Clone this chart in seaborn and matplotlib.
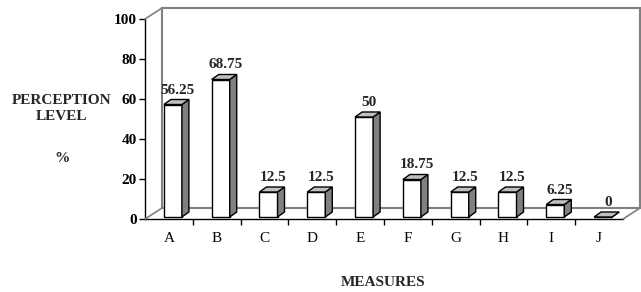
import matplotlib
matplotlib.use('Agg')
import matplotlib.pyplot as plt
from matplotlib.patches import Polygon, Rectangle
from matplotlib.transforms import offset_copy
import seaborn as sns

# --- data ---
measures = list('ABCDEFGHIJ')
perception = [56.25, 68.75, 12.5, 12.5, 50, 18.75, 12.5, 12.5, 6.25, 0]
y_ticks = [0, 20, 40, 60, 80, 100]

# --- style ---
sns.set_style('white')
plt.rcParams['font.family'] = ['Liberation Serif', 'DejaVu Serif']

FRONT = 'white'
SIDE = '#808080'
TOP = '#c0c0c0'
WALL = '#808080'
BAR_W = 0.377
FS = 11

fig = plt.figure(figsize=(6.41, 2.92), dpi=100)
fig.patch.set_facecolor('white')
ax = fig.add_axes([145 / 641, 73 / 292, 478 / 641, 200 / 292])

sns.barplot(x=measures, y=perception, color=FRONT, saturation=1,
            edgecolor='black', linewidth=1, width=BAR_W, ax=ax, zorder=3)
ax.set_xlim(-0.5, len(measures) - 0.5)
ax.set_ylim(0, 100)

# depth of each bar in data units (7 px right, 5 px up)
p0 = ax.transData.transform((0, 0))
p1 = ax.transData.transform((1, 1))
dx = 7 / (p1[0] - p0[0])
dy = 5 / (p1[1] - p0[1])

# bars stand a little behind the front axis
bar_tr = offset_copy(ax.transData, fig=fig, x=4, y=2, units='dots')
for p in list(ax.patches):
    p.set_transform(bar_tr)
    p.set_clip_on(False)
    x0, w, h = p.get_x(), p.get_width(), p.get_height()
    x1 = x0 + w
    side = Polygon([(x1, 0), (x1 + dx, dy), (x1 + dx, h + dy), (x1, h)],
                   closed=True, facecolor=SIDE, edgecolor='black', lw=1,
                   transform=bar_tr, clip_on=False, zorder=3)
    top = Polygon([(x0, h), (x1, h), (x1 + dx, h + dy), (x0 + dx, h + dy)],
                  closed=True, facecolor=TOP, edgecolor='black', lw=1,
                  transform=bar_tr, clip_on=False, zorder=3)
    ax.add_patch(side)
    ax.add_patch(top)

# back wall + floor
wall_tr = offset_copy(ax.transAxes, fig=fig, x=17, y=11, units='dots')
ax.add_patch(Rectangle((0, 0), 1, 1, transform=wall_tr, fill=False,
                       edgecolor=WALL, lw=1.5, clip_on=False, zorder=1))
for corner in [(0, 0), (1, 0), (0, 1)]:
    ax.annotate('', xy=corner, xycoords='axes fraction',
                xytext=(17, 11), textcoords='offset pixels',
                arrowprops=dict(arrowstyle='-', color=WALL, lw=1.2,
                                shrinkA=0, shrinkB=0))

# value labels
lab_tr = offset_copy(ax.transData, fig=fig, x=9, y=13, units='dots')
for i, v in enumerate(perception):
    ax.text(i, v, f'{v:g}', transform=lab_tr, ha='center', va='baseline',
            fontsize=FS, fontweight='bold', zorder=5)

# axes
for s in ['top', 'right']:
    ax.spines[s].set_visible(False)
for s in ['left', 'bottom']:
    ax.spines[s].set_color('black')
    ax.spines[s].set_linewidth(1)
ax.set_yticks(y_ticks)
ax.tick_params(axis='y', left=True, direction='out', length=4, width=1,
               pad=2, labelsize=FS, colors='black')
for lbl in ax.get_yticklabels():
    lbl.set_fontweight('bold')
ax.tick_params(axis='x', which='major', length=0, pad=9, labelsize=FS,
               colors='black')
ax.set_xticks([i + 0.5 for i in range(len(measures) - 1)], minor=True)
ax.tick_params(axis='x', which='minor', bottom=True, direction='out',
               length=4, width=1, color='black')
ax.set_xlabel('')
ax.set_ylabel('')

fig.text(383 / 641, 1 - 282 / 292, 'MEASURES', ha='center', va='center',
         fontsize=FS, fontweight='bold')
fig.text(62 / 641, 1 - 101 / 292, 'PERCEPTION', ha='center', va='center',
         fontsize=FS, fontweight='bold')
fig.text(62 / 641, 1 - 116 / 292, 'LEVEL', ha='center', va='center',
         fontsize=FS, fontweight='bold')
fig.text(62 / 641, 1 - 158 / 292, '%', ha='center', va='center',
         fontsize=FS, fontweight='bold')

fig.savefig('out.png', dpi=100, facecolor='white')
